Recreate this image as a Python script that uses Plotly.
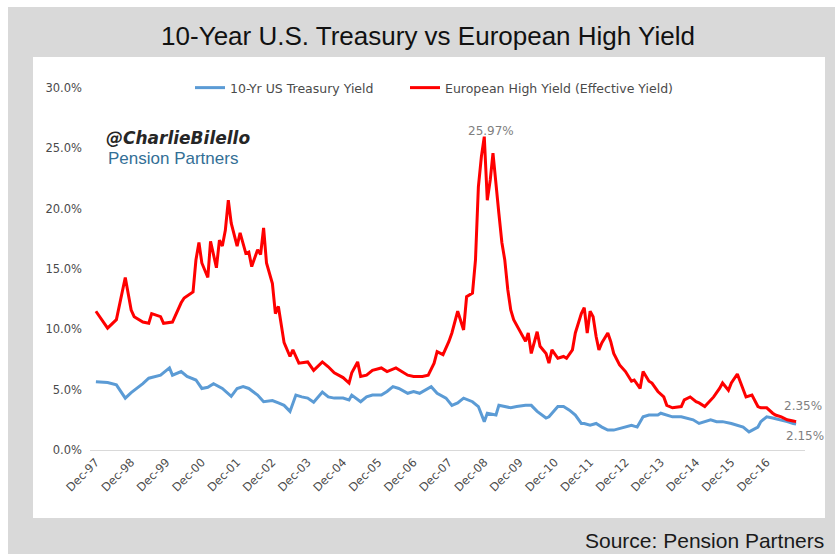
import plotly.graph_objects as go

# ---- data -------------------------------------------------------------
title_text = "10-Year U.S. Treasury vs European High Yield"
source_text = "Source: Pension Partners"
ust_name = "10-Yr US Treasury Yield"
hy_name = "European High Yield (Effective Yield)"

ust_dates = [
    "1997-12", "1998-04", "1998-07", "1998-10", "1998-12", "1999-02", "1999-04", "1999-06",
    "1999-08", "1999-10", "2000-01", "2000-02", "2000-05", "2000-07", "2000-10", "2000-12",
    "2001-02", "2001-04", "2001-07", "2001-10", "2001-12", "2002-02", "2002-04", "2002-07",
    "2002-09", "2002-12", "2003-02", "2003-04", "2003-06", "2003-08", "2003-10", "2003-12",
    "2004-02", "2004-05", "2004-07", "2004-09", "2004-12", "2005-02", "2005-03", "2005-06",
    "2005-08", "2005-10", "2006-01", "2006-03", "2006-05", "2006-07", "2006-10", "2006-12",
    "2007-02", "2007-04", "2007-06", "2007-08", "2007-11", "2008-01", "2008-03", "2008-05",
    "2008-08", "2008-10", "2008-12", "2009-01", "2009-04", "2009-05", "2009-07", "2009-09",
    "2009-11", "2010-02", "2010-04", "2010-06", "2010-09", "2010-10", "2011-01", "2011-03",
    "2011-05", "2011-07", "2011-09", "2011-10", "2011-12", "2012-02", "2012-04", "2012-06",
    "2012-08", "2012-10", "2012-12", "2013-02", "2013-04", "2013-06", "2013-08", "2013-11",
    "2013-12", "2014-02", "2014-04", "2014-07", "2014-09", "2014-11", "2015-01", "2015-03",
    "2015-05", "2015-07", "2015-09", "2015-12", "2016-02", "2016-04", "2016-06", "2016-09",
    "2016-10", "2016-12", "2017-02", "2017-05", "2017-07", "2017-09", "2017-10",
]
ust_yield = [
    5.66, 5.6, 5.4, 4.3, 4.75, 5.1, 5.5, 5.95,
    6.1, 6.2, 6.8, 6.2, 6.5, 6.1, 5.8, 5.1,
    5.2, 5.5, 5.1, 4.45, 5.1, 5.25, 5.1, 4.55,
    4.0, 4.1, 3.9, 3.7, 3.2, 4.55, 4.4, 4.3,
    3.95, 4.8, 4.4, 4.3, 4.3, 4.15, 4.55, 4.0,
    4.4, 4.55, 4.55, 4.85, 5.25, 5.1, 4.7, 4.85,
    4.7, 4.95, 5.25, 4.7, 4.3, 3.7, 3.9, 4.3,
    4.0, 3.6, 2.35, 3.05, 2.9, 3.7, 3.6, 3.5,
    3.6, 3.7, 3.7, 3.2, 2.65, 2.75, 3.6, 3.6,
    3.3, 2.9, 2.2, 2.2, 2.05, 2.2, 1.9, 1.65,
    1.65, 1.8, 1.9, 2.05, 1.9, 2.75, 2.9, 2.9,
    3.05, 2.9, 2.75, 2.75, 2.65, 2.5, 2.2, 2.35,
    2.5, 2.35, 2.35, 2.2, 2.05, 1.9, 1.5, 1.9,
    2.35, 2.75, 2.65, 2.5, 2.35, 2.2, 2.15,
]

hy_dates = [
    "1997-12", "1998-04", "1998-07", "1998-10", "1998-12", "1999-01", "1999-04", "1999-06",
    "1999-07", "1999-10", "1999-11", "2000-02", "2000-05", "2000-06", "2000-09", "2000-10",
    "2000-11", "2000-12", "2001-02", "2001-03", "2001-05", "2001-06", "2001-07", "2001-08",
    "2001-09", "2001-10", "2001-12", "2002-01", "2002-03", "2002-04", "2002-05", "2002-07",
    "2002-08", "2002-09", "2002-10", "2002-12", "2003-01", "2003-02", "2003-04", "2003-06",
    "2003-07", "2003-09", "2003-12", "2004-02", "2004-05", "2004-07", "2004-09", "2004-12",
    "2005-02", "2005-03", "2005-05", "2005-06", "2005-08", "2005-10", "2006-01", "2006-03",
    "2006-06", "2006-08", "2006-10", "2006-12", "2007-03", "2007-05", "2007-07", "2007-08",
    "2007-10", "2007-12", "2008-01", "2008-03", "2008-05", "2008-06", "2008-08", "2008-09",
    "2008-10", "2008-11", "2008-12", "2009-01", "2009-02", "2009-03", "2009-04", "2009-05",
    "2009-06", "2009-07", "2009-08", "2009-09", "2009-10", "2009-12", "2010-02", "2010-03",
    "2010-04", "2010-06", "2010-07", "2010-09", "2010-10", "2010-11", "2011-01", "2011-03",
    "2011-04", "2011-06", "2011-07", "2011-09", "2011-10", "2011-11", "2011-12", "2012-01",
    "2012-02", "2012-03", "2012-04", "2012-06", "2012-07", "2012-08", "2012-10", "2012-12",
    "2013-02", "2013-03", "2013-05", "2013-06", "2013-08", "2013-09", "2013-11", "2014-01",
    "2014-02", "2014-04", "2014-07", "2014-08", "2014-10", "2014-12", "2015-01", "2015-03",
    "2015-05", "2015-06", "2015-08", "2015-09", "2015-11", "2015-12", "2016-02", "2016-03",
    "2016-04", "2016-05", "2016-07", "2016-09", "2016-10", "2016-12", "2017-02", "2017-03",
    "2017-05", "2017-07", "2017-09", "2017-10",
]
hy_yield = [
    11.5, 10.1, 10.8, 14.3, 11.6, 11.05, 10.6, 10.5,
    11.3, 11.05, 10.5, 10.6, 12.2, 12.6, 13.1, 15.75,
    17.2, 15.5, 14.3, 17.3, 15.1, 17.4, 16.9, 18.2,
    20.7, 18.8, 16.9, 18.0, 16.3, 16.4, 15.2, 16.6,
    16.2, 18.4, 15.5, 13.8, 11.3, 11.9, 8.9, 7.75,
    8.3, 7.2, 7.3, 6.6, 7.3, 6.9, 6.4, 6.0,
    5.55, 6.4, 7.3, 6.1, 6.2, 6.6, 6.8, 6.5,
    6.8, 6.5, 6.2, 6.1, 6.1, 6.2, 7.2, 8.15,
    7.9, 9.0, 9.7, 11.5, 9.95, 12.7, 13.0, 15.75,
    21.8, 24.3, 25.97, 20.7, 22.4, 24.6, 21.8, 19.6,
    17.2, 15.75, 13.3, 11.6, 10.8, 9.95, 9.0, 9.7,
    8.0, 9.8, 8.6, 8.0, 7.2, 8.3, 7.6, 7.75,
    7.6, 8.3, 9.7, 11.3, 11.8, 9.7, 11.5, 11.05,
    9.4, 8.3, 8.9, 9.7, 9.0, 8.0, 7.05, 6.5,
    5.7, 5.8, 5.1, 6.5, 5.7, 5.55, 4.85, 4.4,
    3.7, 3.5, 3.6, 4.15, 4.4, 4.0, 3.9, 3.6,
    4.15, 4.4, 5.1, 5.55, 4.95, 5.55, 6.3, 5.7,
    4.95, 4.4, 4.55, 3.6, 3.5, 3.5, 3.05, 2.9,
    2.75, 2.5, 2.4, 2.35,
]

tick_dates = [f"{y}-12-01" for y in range(1997, 2017)]
tick_labels = [f"Dec-{str(y)[2:]}" for y in range(1997, 2017)]
y_ticks = [0, 5, 10, 15, 20, 25, 30]
y_tick_labels = [f"{v:.1f}%" for v in y_ticks]

# ---- geometry helpers (pixel -> paper) ---------------------------------
W, H = 835, 554
L, R, T, B = 90, 30, 88, 104
PW, PH = W - L - R, H - T - B


def px(x):
    return (x - L) / PW


def py(y):
    return (H - B - y) / PH


BLUE = "#5b9bd5"
RED = "#ff0000"
AXIS_TXT = "#4a4a4a"
CHART_FONT = "DejaVu Sans, sans-serif"

fig = go.Figure()
fig.add_trace(go.Scatter(
    x=ust_dates, y=ust_yield, mode="lines", name=ust_name,
    line=dict(color=BLUE, width=3), legend="legend",
))
fig.add_trace(go.Scatter(
    x=hy_dates, y=hy_yield, mode="lines", name=hy_name,
    line=dict(color=RED, width=3), legend="legend2",
))

# labels on the peak and the latest readings
peak_i = max(range(len(hy_yield)), key=lambda i: hy_yield[i])
label_font = dict(family=CHART_FONT, size=12, color="#7f7f7f")
annotations = [
    dict(x=hy_dates[peak_i], y=hy_yield[peak_i], text=f"{hy_yield[peak_i]:.2f}%",
         showarrow=False, xanchor="center", yanchor="bottom", xshift=7, yshift=-3,
         font=label_font),
    dict(x=hy_dates[-1], y=hy_yield[-1], text=f"{hy_yield[-1]:.2f}%",
         showarrow=False, xanchor="left", yanchor="middle", xshift=-14, yshift=16,
         font=label_font),
    dict(x=ust_dates[-1], y=ust_yield[-1], text=f"{ust_yield[-1]:.2f}%",
         showarrow=False, xanchor="left", yanchor="middle", xshift=-12, yshift=-12,
         font=label_font),
    # watermark
    dict(xref="paper", yref="paper", x=px(104), y=py(138), text="<b><i>@CharlieBilello</i></b>",
         showarrow=False, xanchor="left", yanchor="middle",
         font=dict(family="DejaVu Sans", size=17, color="#262626")),
    dict(xref="paper", yref="paper", x=px(106), y=py(158), text="Pension Partners",
         showarrow=False, xanchor="left", yanchor="middle",
         font=dict(family="Liberation Sans Narrow, Arial Narrow, sans-serif", size=17,
                   color="#336f96")),
    # source line
    dict(xref="paper", yref="paper", x=px(826), y=py(540), text=source_text,
         showarrow=False, xanchor="right", yanchor="middle",
         font=dict(family="Liberation Sans, Arial, sans-serif", size=21, color="#1a1a1a")),
]

shapes = [
    dict(type="rect", xref="paper", yref="paper", layer="below",
         x0=px(8), x1=px(W + 5), y0=py(H + 5), y1=py(7),
         fillcolor="#d9d9d9", line=dict(width=0)),
    dict(type="rect", xref="paper", yref="paper", layer="below",
         x0=px(33), x1=px(825), y0=py(518), y1=py(57),
         fillcolor="#ffffff", line=dict(width=0)),
]

legend_style = dict(orientation="h", y=py(88), xanchor="left", yanchor="middle",
                    bgcolor="rgba(0,0,0,0)", itemwidth=30,
                    font=dict(family=CHART_FONT, size=12.5, color=AXIS_TXT))

fig.update_layout(
    width=W, height=H,
    margin=dict(l=L, r=R, t=T, b=B, pad=0),
    paper_bgcolor="#ffffff",
    plot_bgcolor="rgba(0,0,0,0)",
    title=dict(text=title_text, x=428 / W, y=1 - 36 / H, xanchor="center", yanchor="middle",
               font=dict(family="Liberation Sans, Arial, sans-serif", size=26, color="#111111")),
    showlegend=True,
    legend=dict(x=px(190), **legend_style),
    legend2=dict(x=px(405), **legend_style),
    annotations=annotations,
    shapes=shapes,
    xaxis=dict(
        type="date", range=["1997-10-01", "2018-01-01"],
        tickvals=tick_dates, ticktext=tick_labels, tickangle=-45,
        showgrid=False, zeroline=False, ticks="",
        showline=True, linecolor="#d9d9d9", linewidth=1,
        tickfont=dict(family=CHART_FONT, size=11.5, color=AXIS_TXT),
    ),
    yaxis=dict(
        range=[0, 30], tickvals=y_ticks, ticktext=y_tick_labels,
        showgrid=False, zeroline=False, ticks="", showline=False,
        ticklabelstandoff=7,
        tickfont=dict(family=CHART_FONT, size=11.5, color=AXIS_TXT),
    ),
)

fig.write_html("out.html")
